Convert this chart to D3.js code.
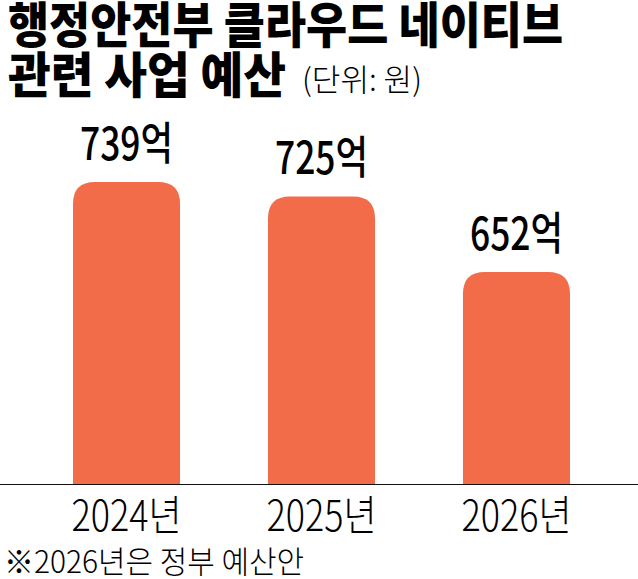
<!DOCTYPE html>
<html><head><meta charset="utf-8">
<script src="https://cdn.jsdelivr.net/npm/d3@7/dist/d3.min.js"></script>
<style>body{margin:0;background:#fff;}svg{display:block;}</style>
</head><body>
<script>
const categories = ["2024년", "2025년", "2026년"];
const values = [739, 725, 652];
const valueLabels = ["739억", "725억", "652억"];
const titleLines = ["행정안전부 클라우드 네이티브", "관련 사업 예산"];
const unitLabel = "(단위: 원)";
const footnote = "※2026년은 정부 예산안";

const W = 638, H = 579;
const svg = d3.select("body").append("svg").attr("width", W).attr("height", H);
const font = "'Noto Sans CJK KR', 'Noto Sans', sans-serif";

const x = d3.scaleBand().domain(categories).range([29, 614]).paddingInner(0.451).paddingOuter(0.2256);
const y = d3.scaleLinear().domain([447, 739]).range([484, 182]);
const r = 22;
const barColor = "#F36C4A";

function topRounded(x0, y0, w, h, r) {
  return `M${x0},${y0 + h}V${y0 + r}Q${x0},${y0} ${x0 + r},${y0}H${x0 + w - r}Q${x0 + w},${y0} ${x0 + w},${y0 + r}V${y0 + h}Z`;
}

svg.selectAll("path.bar").data(values).join("path")
  .attr("class", "bar")
  .attr("fill", barColor)
  .attr("d", (d, i) => topRounded(x(categories[i]), y(d), x.bandwidth(), y.range()[0] - y(d), r));

svg.append("line").attr("x1", 0).attr("x2", W).attr("y1", 484.5).attr("y2", 484.5)
  .attr("stroke", "#111").attr("stroke-width", 1.2);

svg.selectAll("text.val").data(values).join("text")
  .attr("class", "val")
  .attr("x", (d, i) => x(categories[i]) + x.bandwidth() / 2)
  .attr("y", d => y(d) - 22)
  .attr("text-anchor", "middle")
  .attr("font-family", font).attr("font-weight", 500).attr("font-size", 45)
  .attr("textLength", 93).attr("lengthAdjust", "spacingAndGlyphs")
  .text((d, i) => valueLabels[i]);

svg.selectAll("text.cat").data(categories).join("text")
  .attr("class", "cat")
  .attr("x", d => x(d) + x.bandwidth() / 2)
  .attr("y", 531)
  .attr("text-anchor", "middle")
  .attr("font-family", font).attr("font-weight", 300).attr("font-size", 42)
  .attr("textLength", 110).attr("lengthAdjust", "spacingAndGlyphs")
  .text(d => d);

svg.append("text").attr("x", 8).attr("y", 43)
  .attr("font-family", font).attr("font-weight", 900).attr("font-size", 49)
  .attr("textLength", 555).attr("lengthAdjust", "spacingAndGlyphs")
  .text(titleLines[0]);
svg.append("text").attr("x", 8).attr("y", 93)
  .attr("font-family", font).attr("font-weight", 900).attr("font-size", 49)
  .attr("textLength", 278).attr("lengthAdjust", "spacingAndGlyphs")
  .text(titleLines[1]);
svg.append("text").attr("x", 302).attr("y", 91)
  .attr("font-family", font).attr("font-weight", 300).attr("font-size", 31)
  .attr("textLength", 120).attr("lengthAdjust", "spacingAndGlyphs")
  .text(unitLabel);

svg.append("text").attr("x", 4).attr("y", 573)
  .attr("font-family", font).attr("font-weight", 300).attr("font-size", 31)
  .attr("textLength", 300).attr("lengthAdjust", "spacingAndGlyphs")
  .text(footnote);
</script>
</body></html>
